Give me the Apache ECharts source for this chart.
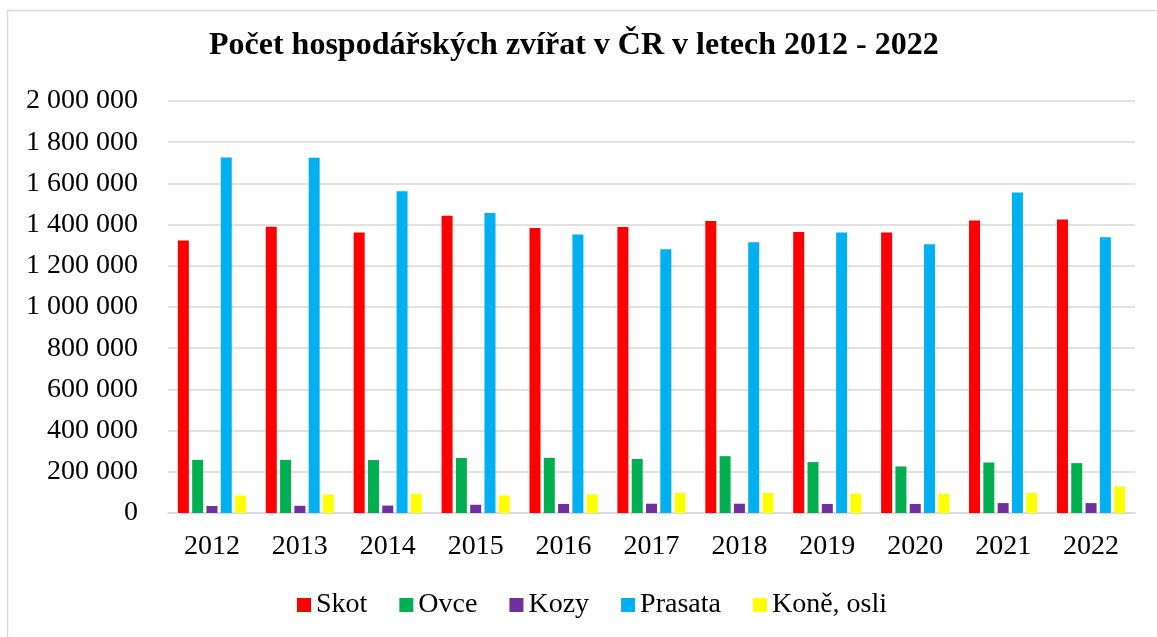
<!DOCTYPE html>
<html>
<head>
<meta charset="utf-8">
<script src="https://cdn.jsdelivr.net/npm/echarts@6/dist/echarts.min.js"></script>
<style>
  html, body { margin: 0; padding: 0; background: #fff; }
  #chart { width: 1157px; height: 637px; }
</style>
</head>
<body>
<div id="chart"></div>
<script>
// data
var years = ['2012', '2013', '2014', '2015', '2016', '2017', '2018', '2019', '2020', '2021', '2022'];
var skot    = [1323000, 1389000, 1362000, 1443000, 1383000, 1388000, 1418000, 1364000, 1362000, 1420000, 1425000];
var ovce    = [258000, 258000, 257000, 267000, 268000, 262000, 276000, 247000, 226000, 245000, 242000];
var kozy    = [34000, 35000, 36000, 40000, 44000, 45000, 45000, 44000, 44000, 48000, 48000];
var prasata = [1726000, 1724000, 1562000, 1456000, 1352000, 1280000, 1314000, 1362000, 1305000, 1556000, 1339000];
var kone    = [85000, 89000, 94000, 85000, 90000, 97000, 97000, 94000, 94000, 97000, 129000];

var seriesNames = ['Skot', 'Ovce', 'Kozy', 'Prasata', 'Koně, osli'];
var seriesData = [skot, ovce, kozy, prasata, kone];
var colorList = ['#ff0000', '#00b050', '#7030a0', '#00b0f0', '#ffff00'];

var font = 'Liberation Serif';

function fmt(v) {
    return String(v).replace(/\B(?=(\d{3})+(?!\d))/g, ' ');
}

var option = {
    animation: false,
    backgroundColor: '#fff',
    title: {
        text: 'Počet hospodářských zvířat v ČR v letech 2012 - 2022',
        left: 204,
        top: 25,
        textStyle: {
            fontFamily: font,
            fontSize: 32,
            fontWeight: 'bold',
            color: '#000'
        }
    },
    legend: {
        bottom: 13,
        left: 292,
        itemWidth: 14,
        itemHeight: 14,
        itemGap: 32,
        icon: 'rect',
        textStyle: {fontFamily: font, fontSize: 28, color: '#000'},
        data: seriesNames
    },
    graphic: [{
        type: 'rect',
        shape: {x: 7.5, y: 10.5, width: 1300, height: 800},
        style: {fill: 'none', stroke: '#d9d9d9', lineWidth: 1.5},
        silent: true
    }],
    grid: {
        left: 168,
        right: 22,
        top: 101,
        bottom: 124
    },
    xAxis: {
        type: 'category',
        data: years,
        axisTick: {show: false},
        axisLine: {lineStyle: {color: '#d9d9d9', width: 1.5}},
        axisLabel: {fontFamily: font, fontSize: 28, color: '#000', margin: 20}
    },
    yAxis: {
        type: 'value',
        min: 0,
        max: 2000000,
        interval: 200000,
        axisLine: {show: false},
        axisTick: {show: false},
        splitLine: {lineStyle: {color: '#d9d9d9', width: 1.5}},
        axisLabel: {
            fontFamily: font,
            fontSize: 28,
            color: '#000',
            margin: 30,
            formatter: fmt
        }
    },
    series: seriesNames.map(function (name, i) {
        return {
            name: name,
            type: 'bar',
            data: seriesData[i],
            barWidth: 11,
            barGap: '30%',
            itemStyle: {color: colorList[i]}
        };
    })
};

var chart = echarts.init(document.getElementById('chart'));
chart.setOption(option);
</script>
</body>
</html>
